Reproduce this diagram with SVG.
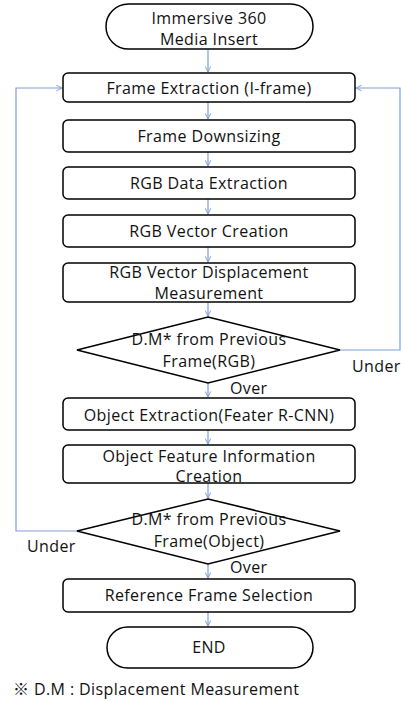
<svg xmlns="http://www.w3.org/2000/svg" width="401" height="702" viewBox="0 0 401 702">
  <style>
    .box { fill: #ffffff; stroke: #000000; stroke-width: 1.5; }
    .lbl { font-family: "Open Sans", "Noto Sans CJK KR", sans-serif; font-size: 16px; letter-spacing: 0.4px; fill: #111111; text-anchor: middle; }
    .side { font-family: "Open Sans", "Noto Sans CJK KR", sans-serif; font-size: 16px; letter-spacing: 0.4px; fill: #111111; }
    .conn { fill: none; stroke: #7f9fd6; stroke-width: 1.2; }
  </style>
  <defs>
    <marker id="arr" viewBox="0 0 10 10" refX="9" refY="5" markerWidth="7" markerHeight="7" orient="auto" markerUnits="userSpaceOnUse">
      <path d="M1,1 L9,5 L1,9" fill="none" stroke="#7f9fd6" stroke-width="1.4"/>
    </marker>
  </defs>
  <rect width="401" height="702" fill="#ffffff"/>

  <g id="connectors">
    <path class="conn" d="M208,49 V72" marker-end="url(#arr)"/>
    <path class="conn" d="M208,102 V119" marker-end="url(#arr)"/>
    <path class="conn" d="M208,152 V166" marker-end="url(#arr)"/>
    <path class="conn" d="M208,199 V214" marker-end="url(#arr)"/>
    <path class="conn" d="M208,247 V262" marker-end="url(#arr)"/>
    <path class="conn" d="M208,302 V316" marker-end="url(#arr)"/>
    <path class="conn" d="M208,383 V397" marker-end="url(#arr)"/>
    <path class="conn" d="M208,430 V444" marker-end="url(#arr)"/>
    <path class="conn" d="M208,483 V498" marker-end="url(#arr)"/>
    <path class="conn" d="M208,564 V578" marker-end="url(#arr)"/>
    <path class="conn" d="M208,612 V626" marker-end="url(#arr)"/>
    <!-- loop back from RGB decision (Under) -->
    <path class="conn" d="M340,350 H400 V88 H356" marker-end="url(#arr)"/>
    <!-- loop back from object decision (Under) -->
    <path class="conn" d="M77,531 H16 V88 H62" marker-end="url(#arr)"/>
  </g>

  <g id="start">
    <rect class="box" x="106" y="4" width="207" height="45" rx="22.5"/>
    <text class="lbl" x="209" y="24">Immersive 360</text>
    <text class="lbl" x="209" y="45">Media Insert</text>
  </g>

  <g id="frame-extraction">
    <rect class="box" x="63" y="73" width="292" height="29" rx="5"/>
    <text class="lbl" x="209" y="94">Frame Extraction (I-frame)</text>
  </g>

  <g id="frame-downsizing">
    <rect class="box" x="63" y="120" width="292" height="32" rx="5"/>
    <text class="lbl" x="209" y="142">Frame Downsizing</text>
  </g>

  <g id="rgb-data">
    <rect class="box" x="63" y="167" width="292" height="32" rx="5"/>
    <text class="lbl" x="209" y="189">RGB Data Extraction</text>
  </g>

  <g id="rgb-vector">
    <rect class="box" x="63" y="215" width="292" height="32" rx="5"/>
    <text class="lbl" x="209" y="237">RGB Vector Creation</text>
  </g>

  <g id="rgb-displacement">
    <rect class="box" x="63" y="263" width="292" height="39" rx="5"/>
    <text class="lbl" x="209" y="278">RGB Vector Displacement</text>
    <text class="lbl" x="209" y="299">Measurement</text>
  </g>

  <g id="decision-rgb">
    <polygon class="box" points="208,317 340,350 208,383 77,350"/>
    <text class="lbl" x="209" y="345">D.M* from Previous</text>
    <text class="lbl" x="209" y="367">Frame(RGB)</text>
    <text class="side" x="352" y="372">Under</text>
    <text class="side" x="230" y="394">Over</text>
  </g>

  <g id="object-extraction">
    <rect class="box" x="63" y="398" width="292" height="32" rx="5"/>
    <text class="lbl" x="209" y="421">Object Extraction(Feater R-CNN)</text>
  </g>

  <g id="object-feature">
    <rect class="box" x="63" y="445" width="292" height="38" rx="5"/>
    <text class="lbl" x="209" y="462">Object Feature Information</text>
    <text class="lbl" x="209" y="482">Creation</text>
  </g>

  <g id="decision-object">
    <polygon class="box" points="208,499 340,531 208,564 77,531"/>
    <text class="lbl" x="209" y="525">D.M* from Previous</text>
    <text class="lbl" x="209" y="547">Frame(Object)</text>
    <text class="side" x="27" y="552">Under</text>
    <text class="side" x="230" y="573">Over</text>
  </g>

  <g id="reference-selection">
    <rect class="box" x="63" y="579" width="292" height="33" rx="5"/>
    <text class="lbl" x="209" y="601">Reference Frame Selection</text>
  </g>

  <g id="end">
    <rect class="box" x="107" y="627" width="206" height="41" rx="20.5"/>
    <text class="lbl" x="209" y="653">END</text>
  </g>

  <text class="side" x="13" y="695">※ D.M : Displacement Measurement</text>
</svg>
